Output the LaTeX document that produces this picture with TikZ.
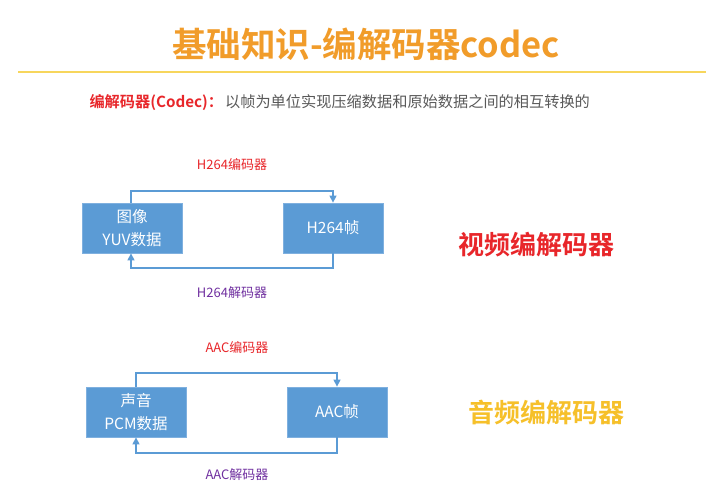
\documentclass[tikz,border=0pt]{standalone}
\usepackage{fontspec}
\setmainfont{Noto Sans CJK SC}
\newfontfamily\cjkbold{Noto Sans CJK SC Bold}
\usetikzlibrary{arrows.meta}
\definecolor{titleorange}{HTML}{F19C2A}
\definecolor{ruleyellow}{HTML}{F7D65C}
\definecolor{boxblue}{HTML}{5B9BD5}
\definecolor{boxedge}{HTML}{7FB0DF}
\definecolor{encred}{HTML}{E8262A}
\definecolor{decpurple}{HTML}{7030A0}
\definecolor{bodygray}{HTML}{595959}
\definecolor{audiogold}{HTML}{F6C02A}
\tikzset{
  databox/.style={draw=boxedge, line width=0.8pt, fill=boxblue, text=white,
    minimum width=100pt, minimum height=50pt, inner sep=0pt, align=center,
    font=\fontsize{15.5}{23}\selectfont},
  flow/.style={draw=boxblue, line width=1.3pt, -{Triangle[length=7pt,width=7pt]}},
  enclabel/.style={text=encred, font=\fontsize{13}{15}\selectfont},
  declabel/.style={text=decpurple, font=\fontsize{13}{15}\selectfont},
  sidelabel/.style={font=\cjkbold\fontsize{26}{29}\selectfont, anchor=west}
}
\begin{document}
\begin{tikzpicture}[x=1pt,y=-1pt]
\useasboundingbox (0,0) rectangle (720,495);
\fill[white] (0,0) rectangle (720,495);

% heading and rule
\node[text=titleorange, font=\cjkbold\fontsize{34.5}{38}\selectfont] (title) at (366,44) {基础知识-编解码器codec};
\draw[ruleyellow, line width=1.5pt] (18,72) -- (706,72);

% definition line
\node[anchor=west, font=\fontsize{15.2}{18}\selectfont] (definition) at (86,103)
  {{\cjkbold\color{encred}编解码器(Codec)：}\hspace{2pt}{\color{bodygray}以帧为单位实现压缩数据和原始数据之间的相互转换的}};

% video codec
\node[databox] (yuv) at (132,228) {图像\\YUV数据};
\node[databox] (h264) at (333,228) {H264帧};
\coordinate (vtopL) at (131,191);
\coordinate (vtopR) at (333,191);
\coordinate (vbotR) at (333,268);
\coordinate (vbotL) at (131,268);
\draw[flow] (yuv.north -| vtopL) -- (vtopL) -- (vtopR) -- (h264.north);
\draw[flow] (h264.south) -- (vbotR) -- (vbotL) -- (yuv.south -| vbotL);
\node[enclabel] (venc) at (232,165) {H264编码器};
\node[declabel] (vdec) at (232,293) {H264解码器};
\node[sidelabel, text=encred] (vname) at (455,245) {视频编解码器};

% audio codec
\node[databox] (pcm) at (136,412) {声音\\PCM数据};
\node[databox] (aac) at (337,412) {AAC帧};
\coordinate (atopL) at (136,373);
\coordinate (atopR) at (337,373);
\coordinate (abotR) at (337,453);
\coordinate (abotL) at (136,453);
\draw[flow] (pcm.north) -- (atopL) -- (atopR) -- (aac.north);
\draw[flow] (aac.south) -- (abotR) -- (abotL) -- (pcm.south);
\node[enclabel] (aenc) at (237,348) {AAC编码器};
\node[declabel] (adec) at (237,475) {AAC解码器};
\node[sidelabel, text=audiogold] (aname) at (465,413) {音频编解码器};
\end{tikzpicture}
\end{document}
